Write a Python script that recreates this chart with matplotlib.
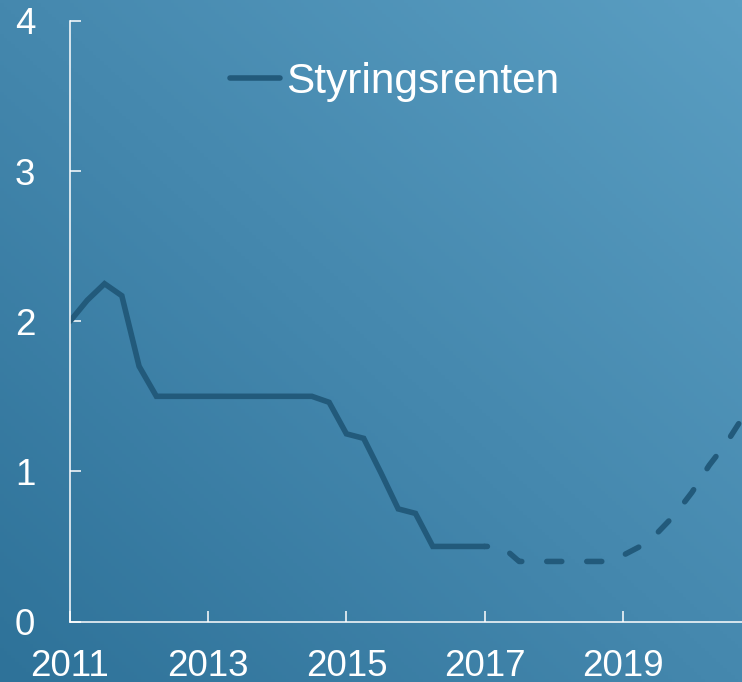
import numpy as np
import matplotlib
matplotlib.use("Agg")
from matplotlib import pyplot as plt
from matplotlib.colors import LinearSegmentedColormap

# Styringsrenten, kvartalsvis (lest av figuren)
years_hist = [2011.0, 2011.25, 2011.5, 2011.75, 2012.0, 2012.25, 2012.5, 2012.75,
              2013.0, 2013.25, 2013.5, 2013.75, 2014.0, 2014.25, 2014.5, 2014.75,
              2015.0, 2015.25, 2015.5, 2015.75, 2016.0, 2016.25, 2016.5, 2016.75,
              2017.0]
rate_hist = [2.0, 2.14, 2.25, 2.17, 1.70, 1.50, 1.50, 1.50,
             1.50, 1.50, 1.50, 1.50, 1.50, 1.50, 1.50, 1.46,
             1.25, 1.22, 0.99, 0.75, 0.72, 0.50, 0.50, 0.50,
             0.50]

# Prognose (stiplet)
years_fc = [2017.0, 2017.25, 2017.5, 2017.75, 2018.0, 2018.25, 2018.5, 2018.75,
            2019.0, 2019.25, 2019.5, 2019.75, 2020.0, 2020.25, 2020.5, 2020.75]
rate_fc = [0.50, 0.50, 0.40, 0.40, 0.40, 0.40, 0.40, 0.40,
           0.44, 0.50, 0.59, 0.71, 0.86, 1.04, 1.19, 1.37]

x_ticks = [2011, 2013, 2015, 2017, 2019]
y_ticks = [0, 1, 2, 3, 4]
legend_label = "Styringsrenten"

line_color = "#225a7b"
plt.rcParams['font.family'] = ['Liberation Sans', 'DejaVu Sans']

W, H = 742, 682
fig = plt.figure(figsize=(W / 100, H / 100), dpi=100)

# bakgrunn med diagonal gradient
bg = fig.add_axes([0, 0, 1, 1], zorder=0)
bg.set_axis_off()
gx, gy = np.meshgrid(np.linspace(0, 1, 200), np.linspace(0, 1, 200))
t = (gx + (1 - gy)) / 2.0
cmap = LinearSegmentedColormap.from_list("bg", ["#2e7299", "#4588ae", "#5a9ec2"])
bg.imshow(t, cmap=cmap, aspect="auto", extent=[0, 1, 0, 1], origin="upper")

left = 70 / W
bottom = 60.5 / H
ax = fig.add_axes([left, bottom, 1 - left, 600.5 / H], zorder=1)
ax.patch.set_alpha(0)

lw = 4.0
ax.plot(years_hist, rate_hist, color=line_color, lw=lw,
        solid_capstyle="round", solid_joinstyle="miter", label=legend_label)
ax.plot(years_fc, rate_fc, color=line_color, lw=lw,
        linestyle=(2.2, (2.7, 4.5)), dash_capstyle="round")

ax.set_xlim(2011, 2011 + 672 / 69.1)
ax.set_ylim(0, 4)
ax.set_xticks(x_ticks)
ax.set_yticks(y_ticks)

for s in ["top", "right"]:
    ax.spines[s].set_visible(False)
for s in ["left", "bottom"]:
    ax.spines[s].set_color("white")
    ax.spines[s].set_linewidth(1.1)

ax.tick_params(axis="both", direction="in", colors="white", length=8, width=1.1,
               labelsize=26.5)
ax.tick_params(axis="y", pad=25)
ax.tick_params(axis="x", pad=20)

leg = ax.legend(loc="center left", bbox_to_anchor=(0.2374, 0.8984), frameon=False,
                fontsize=30.5, handlelength=1.2, handletextpad=0.13,
                borderpad=0, borderaxespad=0)
for txt in leg.get_texts():
    txt.set_color("white")

fig.savefig("out.png", dpi=100)
